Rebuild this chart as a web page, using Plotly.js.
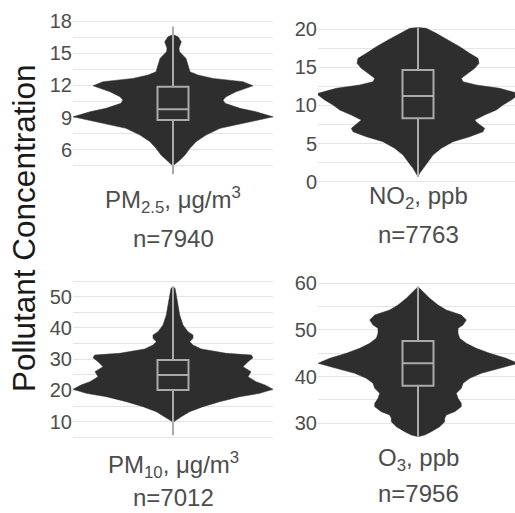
<!DOCTYPE html>
<html><head><meta charset="utf-8">
<script src="https://cdn.plot.ly/plotly-3.0.1.min.js"></script>
<style>html,body{margin:0;padding:0;background:#fff}#c{width:515px;height:513px}</style>
</head><body><div id="c"></div>
<script>
// Violin outlines: value (y) and relative half-width (w, 1 = widest)
const pm25_y = [16.75,16.55,16.08,15.47,15.15,14.53,13.91,13.28,12.97,12.66,12.35,11.97,11.41,10.94,10.64,10.33,9.86,9.54,9.07,8.61,7.99,7.36,6.74,6.12,5.50,5.03,4.72,4.5];
const pm25_w = [0,0.05,0.083,0.06,0.065,0.13,0.15,0.17,0.25,0.4,0.7,0.8,0.63,0.53,0.5,0.52,0.67,0.83,1.0,0.77,0.47,0.33,0.23,0.17,0.12,0.07,0.03,0];
const no2_y = [20.2,20.09,19.43,18.56,17.69,16.81,16.16,15.50,14.85,14.19,13.54,13.10,12.67,12.23,11.57,11.36,10.70,10.05,9.39,8.74,8.08,7.64,6.99,6.55,5.90,5.24,4.37,3.50,2.62,1.75,1.10,0.66];
const no2_w = [0,0.083,0.183,0.3,0.417,0.517,0.6,0.61,0.567,0.5,0.433,0.45,0.583,0.817,1.0,1.0,0.933,0.85,0.783,0.667,0.567,0.6,0.667,0.65,0.517,0.35,0.233,0.15,0.1,0.05,0.017,0];
const pm10_y = [53.2,52.68,50.54,47.34,44.14,40.94,38.81,37.74,36.68,35.61,34.54,33.26,31.88,31.34,30.49,29.21,27.61,26.01,24.41,22.81,21.74,20.36,19.07,18.01,16.41,14.81,13.21,11.61,10.54,9.8];
const pm10_w = [0,0.02,0.033,0.05,0.067,0.1,0.15,0.2,0.2,0.167,0.2,0.283,0.533,0.783,0.8,0.75,0.7,0.78,0.75,0.83,0.92,1.0,0.867,0.667,0.467,0.3,0.167,0.083,0.033,0];
const o3_y = [59.28,58.21,56.78,55.35,54.28,53.21,52.14,51.07,50.35,49.28,48.21,47.14,46.07,45.0,43.92,42.85,41.78,40.71,39.64,38.57,37.50,36.43,35.35,34.28,33.57,32.5,31.78,31.07,30.35,29.28,28.21,27.5,27.14];
const o3_w = [0,0.05,0.117,0.2,0.283,0.433,0.483,0.45,0.4,0.4,0.417,0.483,0.583,0.717,0.883,1.0,0.817,0.633,0.517,0.45,0.433,0.383,0.4,0.433,0.433,0.367,0.283,0.267,0.267,0.217,0.133,0.067,0];

// Box statistics: [lower, q1, median, q3, upper]
const pm25_box = [3.7, 8.77, 9.77, 11.88, 17.5];
const no2_box = [0.66, 8.3, 11.22, 14.63, 20.2];
const pm10_box = [5.7, 20.14, 24.94, 29.74, 53.2];
const o3_box = [27.14, 38.07, 42.85, 47.64, 59.28];

// Tick values (major labelled, minor grid only)
const pm25_ticks = [6, 9, 12, 15, 18];
const pm25_minor = [4.5, 7.5, 10.5, 13.5, 16.5];
const no2_ticks = [0, 5, 10, 15, 20];
const no2_minor = [2.5, 7.5, 12.5, 17.5];
const pm10_ticks = [10, 20, 30, 40, 50];
const pm10_minor = [5, 15, 25, 35, 45, 55];
const o3_ticks = [30, 40, 50, 60];
const o3_minor = [35, 45, 55];

const labels = ["PM<sub>2.5</sub>, μg/m<sup>3</sup>", "NO<sub>2</sub>, ppb", "PM<sub>10</sub>, μg/m<sup>3</sup>", "O<sub>3</sub>, ppb"];
const counts = ["n=7940", "n=7763", "n=7012", "n=7956"];
const yTitle = "Pollutant Concentration";

const panels = [
  {y: pm25_y, w: pm25_w, b: pm25_box, range: [2.79, 18.21], t: pm25_ticks, m: pm25_minor},
  {y: no2_y, w: no2_w, b: no2_box, range: [-0.30, 21.31], t: no2_ticks, m: no2_minor},
  {y: pm10_y, w: pm10_w, b: pm10_box, range: [3.18, 55.66], t: pm10_ticks, m: pm10_minor},
  {y: o3_y, w: o3_w, b: o3_box, range: [25.78, 60.92], t: o3_ticks, m: o3_minor}
];

const W = 515, H = 513;
const xdom = [[73/W, 273/W], [318/W, 1], [73/W, 273/W], [318/W, 1]];
const xr = [[-1, 1], [-1, 0.97], [-1, 1], [-1, 0.97]];
const ydom = [[1-184/H, 1-19/H], [1-184/H, 1-19/H], [1-443/H, 1-279/H], [1-443/H, 1-279/H]];
const FONT = 'Liberation Sans Narrow, Arial Narrow, Liberation Sans, Arial, sans-serif';

const traces = [];
const layout = {
  width: W, height: H, margin: {l:0, r:0, t:0, b:0},
  paper_bgcolor: '#fff', plot_bgcolor: 'rgba(0,0,0,0)', showlegend: false,
  font: {family: 'Liberation Sans, Arial, sans-serif', color: '#4d4d4d'},
  annotations: []
};

panels.forEach((p, i) => {
  const k = i === 0 ? '' : String(i+1);
  const xa = 'x' + k, ya = 'y' + k;
  const ko = String(i+5);
  const xo = 'x' + ko, yo = 'y' + ko;
  const xs = p.w.concat(p.w.slice().reverse().map(v => -v));
  const ys = p.y.concat(p.y.slice().reverse());
  traces.push({type: 'scatter', mode: 'lines', x: xs, y: ys, xaxis: xa, yaxis: ya,
    fill: 'toself', fillcolor: '#2e2e2e', line: {color: '#2e2e2e', width: 0.5}, hoverinfo: 'skip'});
  traces.push({type: 'box', orientation: 'v', x: [0], lowerfence: [p.b[0]], q1: [p.b[1]], median: [p.b[2]], q3: [p.b[3]], upperfence: [p.b[4]],
    xaxis: xo, yaxis: yo, width: 0.31, whiskerwidth: 0, boxpoints: false,
    line: {color: '#aaaaaa', width: 2}, fillcolor: 'rgba(0,0,0,0)'});
  layout['xaxis' + k] = {domain: xdom[i], range: xr[i], showgrid: false, zeroline: false, showticklabels: false, showline: false, ticks: '', anchor: ya};
  layout['yaxis' + k] = {domain: ydom[i], range: p.range, anchor: xa, zeroline: false, showline: false,
    tickmode: 'array', tickvals: p.t, ticks: '',
    gridcolor: '#e4e4e4', gridwidth: 1,
    minor: {tickmode: 'array', tickvals: p.m, showgrid: true, gridcolor: '#e4e4e4', gridwidth: 1, ticks: ''},
    tickfont: {size: 20, color: '#4d4d4d', family: FONT}};
  layout['xaxis' + ko] = {overlaying: xa, range: xr[i], visible: false, anchor: yo};
  layout['yaxis' + ko] = {overlaying: ya, range: p.range, visible: false, anchor: xo};
});

const cx = [173, 418, 173, 418];
const l1y = [200, 197, 465, 459];
const l2y = [239, 234, 497, 493];
for (let i = 0; i < 4; i++) {
  layout.annotations.push({xref: 'paper', yref: 'paper', x: cx[i]/W, y: 1 - l1y[i]/H, xanchor: 'center', yanchor: 'middle',
    text: labels[i], showarrow: false, font: {size: 24, color: '#4d4d4d'}});
  layout.annotations.push({xref: 'paper', yref: 'paper', x: cx[i]/W, y: 1 - l2y[i]/H, xanchor: 'center', yanchor: 'middle',
    text: counts[i], showarrow: false, font: {size: 24, color: '#4d4d4d'}});
}
layout.annotations.push({xref: 'paper', yref: 'paper', x: 24/W, y: 1 - 229/H, xanchor: 'center', yanchor: 'middle',
  text: yTitle, textangle: -90, showarrow: false, font: {size: 31.5, color: '#1a1a1a'}});

Plotly.newPlot('c', traces, layout, {staticPlot: true, displayModeBar: false});
</script></body></html>
